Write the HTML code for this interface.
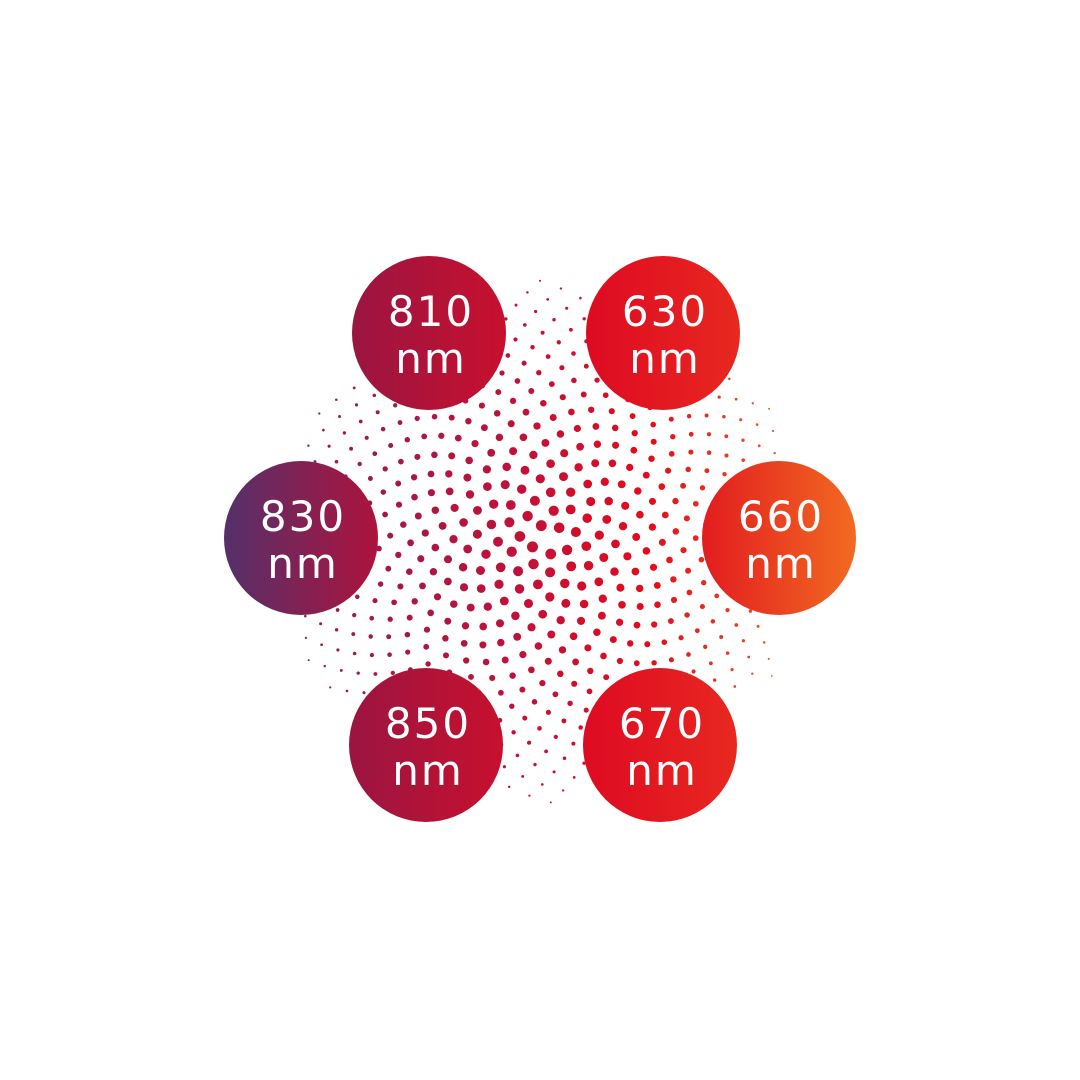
<!DOCTYPE html>
<html><head><meta charset="utf-8"><style>
html,body{margin:0;padding:0;background:#fff;}
svg{display:block;}
text{font-family:"DejaVu Sans","Liberation Sans",sans-serif;fill:#fff;font-size:42px;text-anchor:middle;letter-spacing:2px;}
</style></head><body>
<svg id="s" width="1080" height="1080" viewBox="0 0 1080 1080" xmlns="http://www.w3.org/2000/svg">
<defs>
<linearGradient id="dg" gradientUnits="userSpaceOnUse" x1="270" y1="0" x2="810" y2="0">
<stop offset="0" stop-color="#8c1f50"/><stop offset="0.45" stop-color="#c0113a"/><stop offset="0.7" stop-color="#e30b1c"/><stop offset="1" stop-color="#f26a21"/>
</linearGradient>
<linearGradient id="g810" x1="0" x2="1"><stop offset="0" stop-color="#9a1542"/><stop offset="1" stop-color="#c8102e"/></linearGradient>
<linearGradient id="g630" x1="0" x2="1"><stop offset="0" stop-color="#de0a22"/><stop offset="1" stop-color="#e82820"/></linearGradient>
<linearGradient id="g830" x1="0" x2="1"><stop offset="0" stop-color="#55306a"/><stop offset="1" stop-color="#ad133d"/></linearGradient>
<linearGradient id="g660" x1="0" x2="1"><stop offset="0" stop-color="#e21c1f"/><stop offset="1" stop-color="#f26a21"/></linearGradient>
<linearGradient id="g850" x1="0" x2="1"><stop offset="0" stop-color="#9a1542"/><stop offset="1" stop-color="#c8102e"/></linearGradient>
<linearGradient id="g670" x1="0" x2="1"><stop offset="0" stop-color="#de0a22"/><stop offset="1" stop-color="#e82820"/></linearGradient>
</defs>
<g id="dots" fill="url(#dg)"></g>
<circle cx="429" cy="333" r="77" fill="url(#g810)"/>
<circle cx="663" cy="333" r="77" fill="url(#g630)"/>
<circle cx="301" cy="538" r="77" fill="url(#g830)"/>
<circle cx="779" cy="538" r="77" fill="url(#g660)"/>
<circle cx="426" cy="745" r="77" fill="url(#g850)"/>
<circle cx="660" cy="745" r="77" fill="url(#g670)"/>
<text x="431" y="326">810</text><text x="431" y="373">nm</text>
<text x="665" y="326">630</text><text x="665" y="373">nm</text>
<text x="303" y="531">830</text><text x="303" y="578">nm</text>
<text x="781" y="531">660</text><text x="781" y="578">nm</text>
<text x="428" y="738">850</text><text x="428" y="785">nm</text>
<text x="662" y="738">670</text><text x="662" y="785">nm</text>
</svg>
<script>
(function(){
var g=document.getElementById('dots'),cx=540,cy=540,R=272,c=10.2,ga=Math.PI*(3-Math.sqrt(5)),h='';
var apo=R*Math.sqrt(3)/2;
for(var n=1;n<1400;n++){
 var r=c*Math.sqrt(n),a=n*ga,x=r*Math.cos(a),y=r*Math.sin(a);
 if(r>R+5)break;
 var ax=Math.abs(x),ay=Math.abs(y);
 if(ax>apo)continue;
 if(ax*0.5+ay*Math.sqrt(3)/2>apo)continue;
 var rad=Math.max(0.6,5.2*(1-r/290)+0.5);
 h+='<circle cx="'+(cx+x).toFixed(1)+'" cy="'+(cy+y).toFixed(1)+'" r="'+rad.toFixed(2)+'"/>';
}
g.innerHTML=h;
})();
</script>
</body></html>
